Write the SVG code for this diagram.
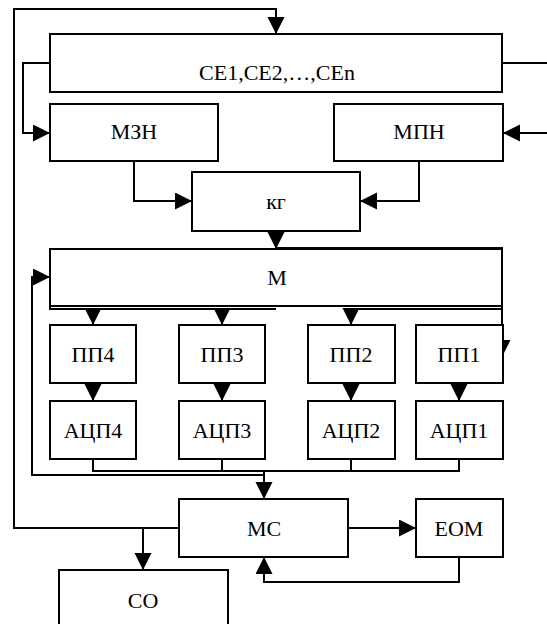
<svg xmlns="http://www.w3.org/2000/svg" width="547" height="624" viewBox="0 0 547 624">
<style>
.box{fill:#fff;stroke:#000;stroke-width:2}
.ln{fill:none;stroke:#000;stroke-width:2;marker-end:url(#ah)}
.pl{fill:none;stroke:#000;stroke-width:2}
.t{font-family:'Liberation Serif','DejaVu Serif',serif;font-size:22px;text-anchor:middle;fill:#000;font-weight:normal}
</style>
<defs>
<marker id="ah" markerUnits="userSpaceOnUse" markerWidth="18" markerHeight="18" refX="17" refY="8.5" orient="auto">
<path d="M0,0 L17,8.5 L0,17 Z" fill="#000"/>
</marker>
</defs>
<rect width="547" height="624" fill="#fff"/>
<g id="connectors">
<path class="ln" d="M179,528 H14 V9 H276 V34"/>
<path class="ln" d="M50,63 H23 V133 H50"/>
<path class="ln" d="M502,63 H560 V133 H503"/>
<path class="ln" d="M134,161 V201 H192"/>
<path class="ln" d="M419,161 V201 H360"/>
<path class="ln" d="M276,231 V249"/>
<path class="ln" d="M276,248 H502 V357"/>
<path class="pl" d="M50,306 V309 H276"/>
<path class="pl" d="M502,309 H351"/>
<path class="ln" d="M93,309 V325"/>
<path class="ln" d="M222,309 V325"/>
<path class="ln" d="M351,309 V325"/>
<path class="ln" d="M93,383 V401"/>
<path class="ln" d="M222,383 V401"/>
<path class="ln" d="M351,383 V401"/>
<path class="ln" d="M459,383 V401"/>
<path class="pl" d="M93,459 V471 H459 V459 M222,459 V471 M351,459 V471"/>
<path class="ln" d="M264,471 V499"/>
<path class="ln" d="M264,475 H32 V277 H50"/>
<path class="ln" d="M143,528 V570"/>
<path class="ln" d="M348,528 H416"/>
<path class="ln" d="M459,557 V582 H264 V557"/>
</g>
<g id="ce"><rect class="box" x="50" y="34" width="452" height="58"/><text class="t" x="277" y="80" font-family="Liberation Serif">CE1,CE2,…,CEn</text></g>
<g id="mzn"><rect class="box" x="50" y="104" width="168" height="57"/><text class="t" x="134" y="139">МЗН</text></g>
<g id="mpn"><rect class="box" x="334" y="104" width="169" height="57"/><text class="t" x="419" y="139">МПН</text></g>
<g id="kg"><rect class="box" x="192" y="172" width="168" height="59"/><text class="t" x="276" y="209">кг</text></g>
<g id="m"><rect class="box" x="50" y="249" width="452" height="57"/><text class="t" x="277" y="285">М</text></g>
<g id="pp4"><rect class="box" x="50" y="325" width="86" height="58"/><text class="t" x="93" y="362">ПП4</text></g>
<g id="pp3"><rect class="box" x="179" y="325" width="86" height="58"/><text class="t" x="222" y="362">ПП3</text></g>
<g id="pp2"><rect class="box" x="308" y="325" width="87" height="58"/><text class="t" x="351" y="362">ПП2</text></g>
<g id="pp1"><rect class="box" x="416" y="325" width="87" height="58"/><text class="t" x="459" y="362">ПП1</text></g>
<g id="adc4"><rect class="box" x="50" y="401" width="86" height="58"/><text class="t" x="93" y="438">АЦП4</text></g>
<g id="adc3"><rect class="box" x="179" y="401" width="86" height="58"/><text class="t" x="222" y="438">АЦП3</text></g>
<g id="adc2"><rect class="box" x="308" y="401" width="87" height="58"/><text class="t" x="351" y="438">АЦП2</text></g>
<g id="adc1"><rect class="box" x="416" y="401" width="87" height="58"/><text class="t" x="459" y="438">АЦП1</text></g>
<g id="ms"><rect class="box" x="179" y="499" width="169" height="58"/><text class="t" x="264" y="536">МС</text></g>
<g id="eom"><rect class="box" x="416" y="499" width="87" height="58"/><text class="t" x="459" y="536">ЕОМ</text></g>
<g id="so"><rect class="box" x="59" y="570" width="169" height="62"/><text class="t" x="143" y="608">СО</text></g>
</svg>
